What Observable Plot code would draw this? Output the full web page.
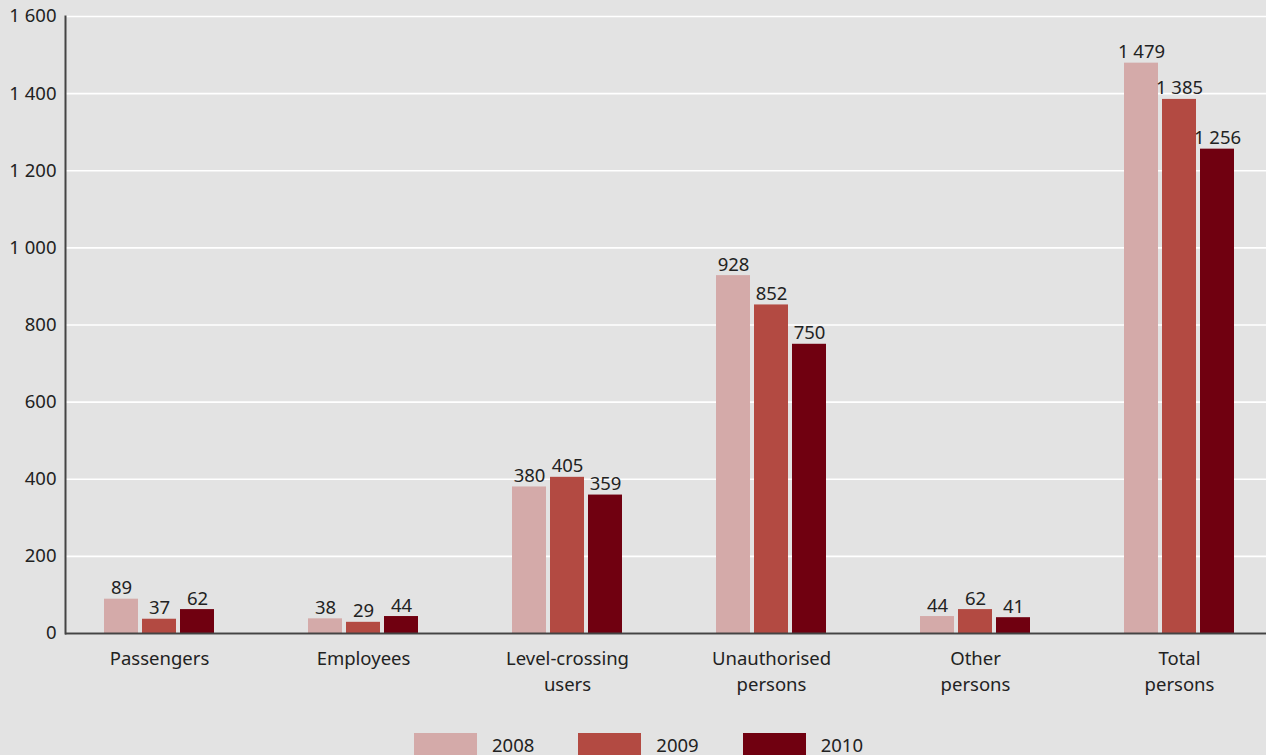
<!DOCTYPE html>
<html>
<head>
<meta charset="utf-8">
<script src="https://cdn.jsdelivr.net/npm/d3@7"></script>
<script src="https://cdn.jsdelivr.net/npm/@observablehq/plot@0.6"></script>
<style>
  html, body { margin: 0; padding: 0; background: #e3e3e3; }
  body { width: 1266px; height: 755px; overflow: hidden; font-family: "Noto Sans", sans-serif; }
  #chart svg { display: block; }
  #legend { display: flex; justify-content: center; gap: 0; margin-top: 32px; padding-left: 11px; font-size: 18.5px; color: #222; }
  .item { display: flex; align-items: center; margin: 0 22px; }
  .sw { width: 63px; height: 23px; margin-right: 15px; }
</style>
</head>
<body>
<div id="chart"></div>
<div id="legend"></div>
<script>
const categories = ["Passengers", "Employees", "Level-crossing users", "Unauthorised persons", "Other persons", "Total persons"];
const categoryLabels = ["Passengers", "Employees", "Level-crossing\nusers", "Unauthorised\npersons", "Other\npersons", "Total\npersons"];
const years = ["2008", "2009", "2010"];
const values2008 = [89, 38, 380, 928, 44, 1479];
const values2009 = [37, 29, 405, 852, 62, 1385];
const values2010 = [62, 44, 359, 750, 41, 1256];
const yTicks = [0, 200, 400, 600, 800, 1000, 1200, 1400, 1600];
const colors = ["#d4aaa9", "#b34a42", "#700010"];

const series = [values2008, values2009, values2010];
const data = [];
years.forEach((yr, j) => categories.forEach((c, i) => data.push({category: c, year: yr, value: series[j][i]})));

const fmt = d3.formatLocale({decimal: ".", thousands: " ", grouping: [3], currency: ["", ""]}).format(",");

const font = "'Noto Sans', sans-serif";
const fs = 18.5;
const barStep = 38;
const marks = [
  Plot.gridY(yTicks, {stroke: "#ffffff", strokeOpacity: 1, strokeWidth: 1.6}),
  Plot.axisY(yTicks, {tickSize: 0, tickPadding: 9, tickFormat: d => fmt(d), fontSize: fs, fill: "#222", label: null})
];
years.forEach((yr, j) => {
  const subset = data.filter(d => d.year === yr);
  marks.push(Plot.barY(subset, {x: "category", y: "value", fill: "year", dx: (j - 1) * barStep, insetLeft: 85, insetRight: 85}));
  marks.push(Plot.text(subset, {x: "category", y: "value", text: d => fmt(d.value), dx: (j - 1) * barStep, dy: -5, lineAnchor: "bottom", fontSize: fs, fill: "#222"}));
});
marks.push(Plot.ruleY([0], {stroke: "#444", strokeWidth: 2}));
marks.push(Plot.frame({anchor: "left", stroke: "#444", strokeWidth: 2}));
marks.push(Plot.text(categories, {x: d => d, text: (d, i) => categoryLabels[i], frameAnchor: "bottom", dy: 13, lineAnchor: "top", lineHeight: 1.4, fontSize: fs, fill: "#222"}));

const plot = Plot.plot({
  width: 1266,
  height: 700,
  marginLeft: 65,
  marginRight: 0,
  marginTop: 16,
  marginBottom: 67,
  style: {background: "#e3e3e3", fontFamily: font, overflow: "visible"},
  x: {domain: categories, range: [56, 1281], padding: 0, axis: null},
  y: {domain: [0, 1600], axis: null},
  color: {domain: years, range: colors},
  marks
});
document.getElementById("chart").appendChild(plot);

const legend = document.getElementById("legend");
years.forEach((yr, j) => {
  const item = document.createElement("div");
  item.className = "item";
  const sw = document.createElement("div");
  sw.className = "sw";
  sw.style.background = colors[j];
  const t = document.createElement("span");
  t.textContent = yr;
  item.appendChild(sw);
  item.appendChild(t);
  legend.appendChild(item);
});
</script>
</body>
</html>
